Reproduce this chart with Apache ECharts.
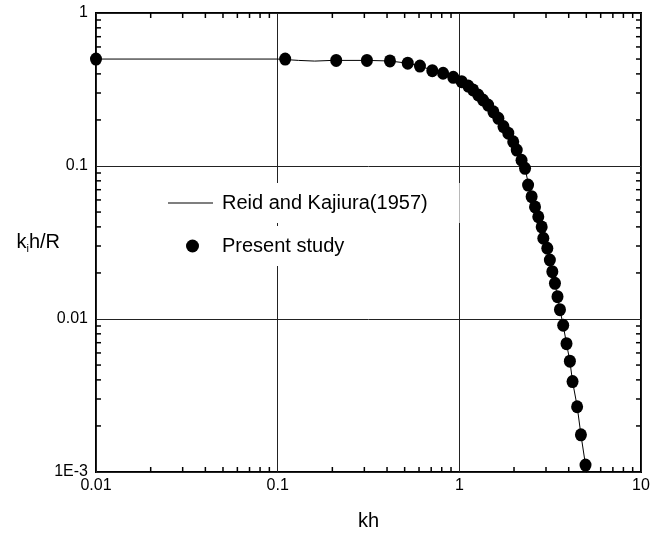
<!DOCTYPE html>
<html>
<head>
<meta charset="utf-8">
<script src="https://cdn.jsdelivr.net/npm/echarts@6/dist/echarts.min.js"></script>
<style>
  html, body { margin: 0; padding: 0; background: #fff; }
  #chart { width: 666px; height: 536px; }
</style>
</head>
<body>
<div id="chart"></div>
<script>
// axis ranges and labels
const xRange = [0.01, 10];
const yRange = [0.001, 1];
const xTickLabels = { "-2": "0.01", "-1": "0.1", "0": "1", "1": "10" };
const yTickLabels = { "-3": "1E-3", "-2": "0.01", "-1": "0.1", "0": "1" };

// minor tick values (2..9 in each decade)
const xMinor = [0.02, 0.03, 0.04, 0.05, 0.06, 0.07, 0.08, 0.09,
  0.2, 0.3, 0.4, 0.5, 0.6, 0.7, 0.8, 0.9,
  2, 3, 4, 5, 6, 7, 8, 9];
const yMinor = [0.002, 0.003, 0.004, 0.005, 0.006, 0.007, 0.008, 0.009,
  0.02, 0.03, 0.04, 0.05, 0.06, 0.07, 0.08, 0.09,
  0.2, 0.3, 0.4, 0.5, 0.6, 0.7, 0.8, 0.9];

// Reid and Kajiura (1957) curve
const reidX = [0.01, 0.1, 0.13, 0.16, 0.2, 0.31, 0.41, 0.52, 0.61, 0.71, 0.81, 0.92,
  1.03, 1.12, 1.19, 1.27, 1.35, 1.44, 1.54, 1.64, 1.75, 1.86, 1.98, 2.07, 2.2, 2.3,
  2.39, 2.5, 2.61, 2.72, 2.84, 2.92, 3.05, 3.15, 3.25, 3.36, 3.47, 3.58, 3.73, 3.89,
  4.06, 4.2, 4.45, 4.67, 4.95, 5.05];
const reidY = [0.5, 0.5, 0.49, 0.485, 0.49, 0.49, 0.486, 0.47, 0.45, 0.422, 0.4, 0.378,
  0.356, 0.333, 0.314, 0.291, 0.27, 0.25, 0.226, 0.205, 0.181, 0.164, 0.144, 0.127, 0.109, 0.0966,
  0.078, 0.065, 0.055, 0.0466, 0.04, 0.0337, 0.029, 0.0243, 0.0204, 0.0171, 0.014, 0.0115, 0.0091, 0.0069,
  0.0053, 0.0039, 0.0027, 0.00175, 0.00111, 0.0009];

// Present study
const studyX = [0.01, 0.11, 0.21, 0.31, 0.415, 0.52, 0.607, 0.71, 0.814, 0.926,
  1.03, 1.12, 1.19, 1.27, 1.35, 1.44, 1.54, 1.64, 1.75, 1.86, 1.98, 2.07, 2.2, 2.3,
  2.39, 2.5, 2.61, 2.72, 2.84, 2.9, 3.05, 3.15, 3.25, 3.36, 3.47, 3.58, 3.73, 3.89,
  4.06, 4.2, 4.45, 4.67, 4.95];
const studyY = [0.5, 0.5, 0.49, 0.49, 0.486, 0.47, 0.45, 0.42, 0.404, 0.38,
  0.356, 0.333, 0.314, 0.291, 0.27, 0.25, 0.226, 0.205, 0.181, 0.164, 0.144, 0.127, 0.109, 0.0966,
  0.075, 0.063, 0.054, 0.0466, 0.04, 0.0337, 0.029, 0.0243, 0.0204, 0.0171, 0.014, 0.0115, 0.0091, 0.0069,
  0.0053, 0.0039, 0.00267, 0.00175, 0.00111];

const FONT = "'Liberation Sans', Arial, sans-serif";
const TICK = 5;

function zip(xs, ys) {
  return xs.map((x, i) => [x, ys[i]]);
}

function decadeLabel(table) {
  return (value) => {
    const key = String(Math.round(Math.log10(value)));
    return table[key] || "";
  };
}

// short inward ticks on bottom/top for each x minor value
function renderXTick(params, api) {
  const v = api.value(0);
  const b = api.coord([v, yRange[0]]);
  const t = api.coord([v, yRange[1]]);
  const style = { stroke: "#000", lineWidth: 1.5 };
  return {
    type: "group",
    children: [
      { type: "line", shape: { x1: b[0], y1: b[1], x2: b[0], y2: b[1] - TICK }, style },
      { type: "line", shape: { x1: t[0], y1: t[1], x2: t[0], y2: t[1] + TICK }, style },
    ],
  };
}

// short inward ticks on left/right for each y minor value
function renderYTick(params, api) {
  const v = api.value(1);
  const l = api.coord([xRange[0], v]);
  const r = api.coord([xRange[1], v]);
  const style = { stroke: "#000", lineWidth: 1.5 };
  return {
    type: "group",
    children: [
      { type: "line", shape: { x1: l[0], y1: l[1], x2: l[0] + TICK, y2: l[1] }, style },
      { type: "line", shape: { x1: r[0], y1: r[1], x2: r[0] - TICK, y2: r[1] }, style },
    ],
  };
}

const chart = echarts.init(document.getElementById("chart"), null, { renderer: "canvas" });

const option = {
  animation: false,
  backgroundColor: "#fff",
  textStyle: { fontFamily: FONT },
  grid: {
    left: 96,
    right: 25,
    top: 13,
    bottom: 64,
    show: true,
    borderColor: "#000",
    borderWidth: 2,
    backgroundColor: "transparent",
  },
  legend: [
    {
      data: ["Reid and Kajiura(1957)"],
      left: 160,
      top: 183,
      orient: "vertical",
      padding: [10, 32, 10, 8],
      backgroundColor: "#fff",
      icon: "rect",
      itemWidth: 45,
      itemHeight: 1.2,
      itemStyle: { color: "#000", opacity: 1 },
      textStyle: { fontFamily: FONT, fontSize: 20, color: "#000", padding: [0, 0, 0, 4] },
    },
    {
      data: ["Present study"],
      left: 178,
      top: 226,
      orient: "vertical",
      padding: [10, 10, 10, 8],
      backgroundColor: "#fff",
      icon: "circle",
      itemWidth: 13,
      itemHeight: 14,
      itemStyle: { color: "#000", opacity: 1 },
      textStyle: { fontFamily: FONT, fontSize: 20, color: "#000", padding: [0, 0, 0, 18] },
    },
  ],
  xAxis: {
    type: "log",
    logBase: 10,
    min: xRange[0],
    max: xRange[1],
    name: "kh",
    nameLocation: "middle",
    nameGap: 39,
    nameMoveOverlap: false,
    nameTextStyle: { fontFamily: FONT, fontSize: 20, color: "#000", verticalAlign: "top" },
    axisLine: { show: false },
    axisTick: { show: false },
    axisLabel: {
      fontFamily: FONT,
      fontSize: 16,
      color: "#000",
      margin: 6,
      formatter: decadeLabel(xTickLabels),
    },
    splitLine: { show: true, lineStyle: { color: "#222", width: 1 } },
  },
  yAxis: {
    type: "log",
    logBase: 10,
    min: yRange[0],
    max: yRange[1],
    name: "k{s|i}h/R",
    nameLocation: "middle",
    nameRotate: 0,
    nameGap: 36,
    nameMoveOverlap: false,
    nameTextStyle: {
      fontFamily: FONT,
      fontSize: 20,
      color: "#000",
      align: "right",
      rich: {
        s: { fontFamily: FONT, fontSize: 11, color: "#000", verticalAlign: "bottom", padding: [12, 0, 0, 0] },
      },
    },
    axisLine: { show: false },
    axisTick: { show: false },
    axisLabel: {
      fontFamily: FONT,
      fontSize: 16,
      color: "#000",
      margin: 8,
      formatter: decadeLabel(yTickLabels),
    },
    splitLine: { show: true, lineStyle: { color: "#222", width: 1 } },
  },
  series: [
    {
      name: "Reid and Kajiura(1957)",
      type: "line",
      data: zip(reidX, reidY),
      showSymbol: false,
      symbol: "none",
      clip: true,
      lineStyle: { color: "#000", width: 1 },
      itemStyle: { color: "#000" },
      z: 3,
    },
    {
      name: "Present study",
      type: "scatter",
      data: zip(studyX, studyY),
      symbol: "circle",
      symbolSize: [12, 13],
      clip: true,
      itemStyle: { color: "#000", opacity: 1 },
      z: 4,
    },
    {
      type: "custom",
      data: xMinor.map((v) => [v, yRange[0]]),
      renderItem: renderXTick,
      silent: true,
      clip: false,
      z: 5,
    },
    {
      type: "custom",
      data: yMinor.map((v) => [xRange[0], v]),
      renderItem: renderYTick,
      silent: true,
      clip: false,
      z: 5,
    },
  ],
};

chart.setOption(option);
</script>
</body>
</html>
